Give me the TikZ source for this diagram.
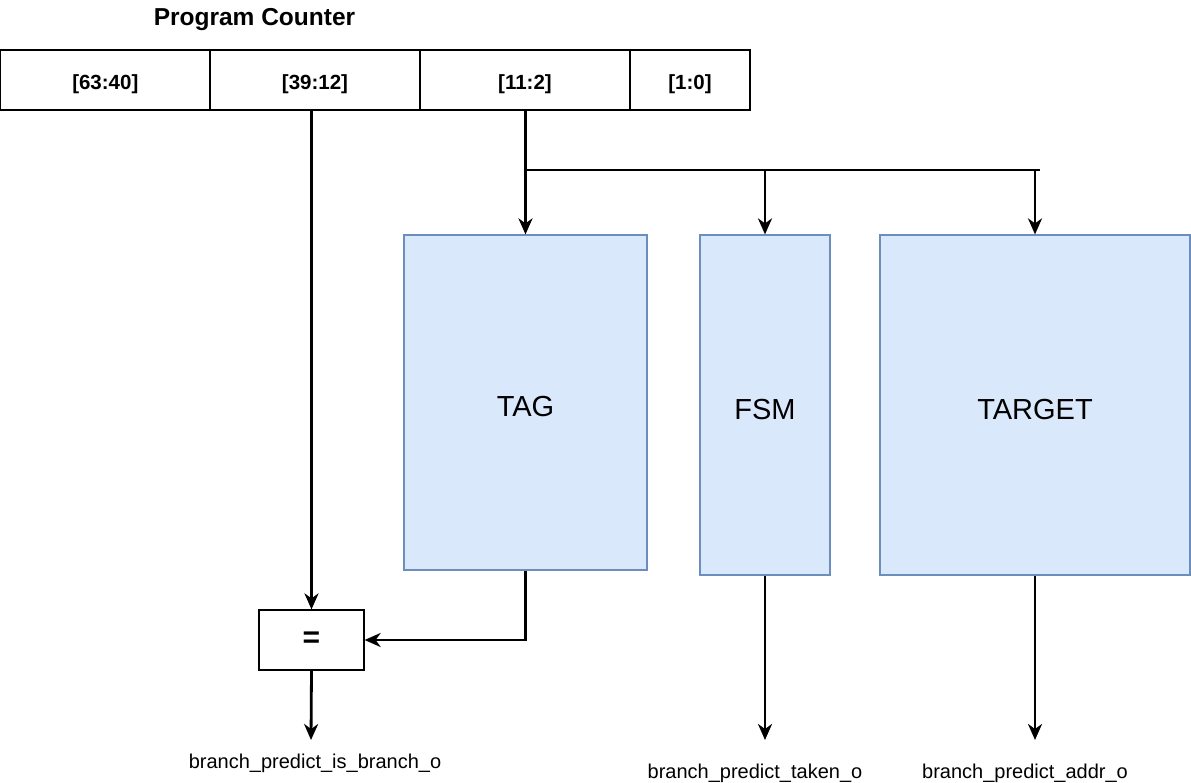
\documentclass[tikz,border=0pt]{standalone}
\usepackage{fontspec}
\setmainfont{Liberation Sans}
\usetikzlibrary{arrows.meta}
\definecolor{boxfill}{HTML}{DAE8FC}
\definecolor{boxline}{HTML}{6C8EBF}
\begin{document}
\begin{tikzpicture}[x=1pt,y=-1pt,
  cell/.style={draw=black,line width=1.2pt,minimum height=60pt,inner sep=0pt,
    text height=18.6pt,text depth=0pt,
    font=\bfseries\fontsize{20.5}{24}\selectfont},
  blk/.style={draw=boxline,fill=boxfill,line width=1.2pt,inner sep=0pt,
    text height=28pt,text depth=0pt,
    font=\fontsize{29}{33}\selectfont},
  eqbox/.style={draw=black,line width=1.2pt,minimum width=105pt,minimum height=60pt,inner sep=0pt,
    font=\bfseries\fontsize{30}{34}\selectfont},
  lbl/.style={inner sep=0pt,anchor=base,font=\fontsize{20}{24}\selectfont},
  wire/.style={line width=2.8pt},
  arr/.style={line width=2.8pt,-{Stealth[length=16pt,width=14pt,inset=5pt]}}
]
\useasboundingbox (0,0) rectangle (1191,783);
% title
\node[inner sep=0pt,anchor=base,font=\bfseries\fontsize{24.5}{28}\selectfont] (title) at (254.5,26) {Program Counter};
% program counter cells
\node[cell,minimum width=209.4pt] (c1) at (105.3,80) {[63:40]};
\node[cell,minimum width=210pt] (c2) at (315,80) {[39:12]};
\node[cell,minimum width=210pt] (c3) at (525,80) {[11:2]};
\node[cell,minimum width=120pt] (c4) at (690,80) {[1:0]};
% blocks
\node[blk,minimum width=243pt,minimum height=335pt] (tag) at (525.5,402.5) {TAG};
\node[blk,minimum width=130pt,minimum height=340pt] (fsm) at (765,405) {FSM};
\node[blk,minimum width=310pt,minimum height=340pt] (target) at (1035,405) {TARGET};
% comparator
\node[eqbox] (eq) at (311.5,640) {=};
% output labels
\node[lbl] (lab1) at (315,768) {branch\_predict\_is\_branch\_o};
\node[lbl] (lab2) at (755,778) {branch\_predict\_taken\_o};
\node[lbl] (lab3) at (1025,778) {branch\_predict\_addr\_o};
% junctions
\coordinate (brL) at (525.5,170);
\coordinate (brR) at (1040,170);
\coordinate (o1) at (311,740);
\coordinate (o2) at (765,740);
\coordinate (o3) at (1035,740);
% connectors
\draw[arr] (eq.north |- c2.south) -- (eq.north);
\draw[arr] (tag.north |- c3.south) -- (tag.north);
\draw[wire] (brL) -- (brR);
\draw[arr] (fsm.north |- brL) -- (fsm.north);
\draw[arr] (target.north |- brL) -- (target.north);
\draw[arr] (tag.south) -- (tag.south |- eq.east) -- (eq.east);
\draw[arr] (eq.south) -- (o1);
\draw[arr] (fsm.south) -- (o2);
\draw[arr] (target.south) -- (o3);
\end{tikzpicture}
\end{document}
